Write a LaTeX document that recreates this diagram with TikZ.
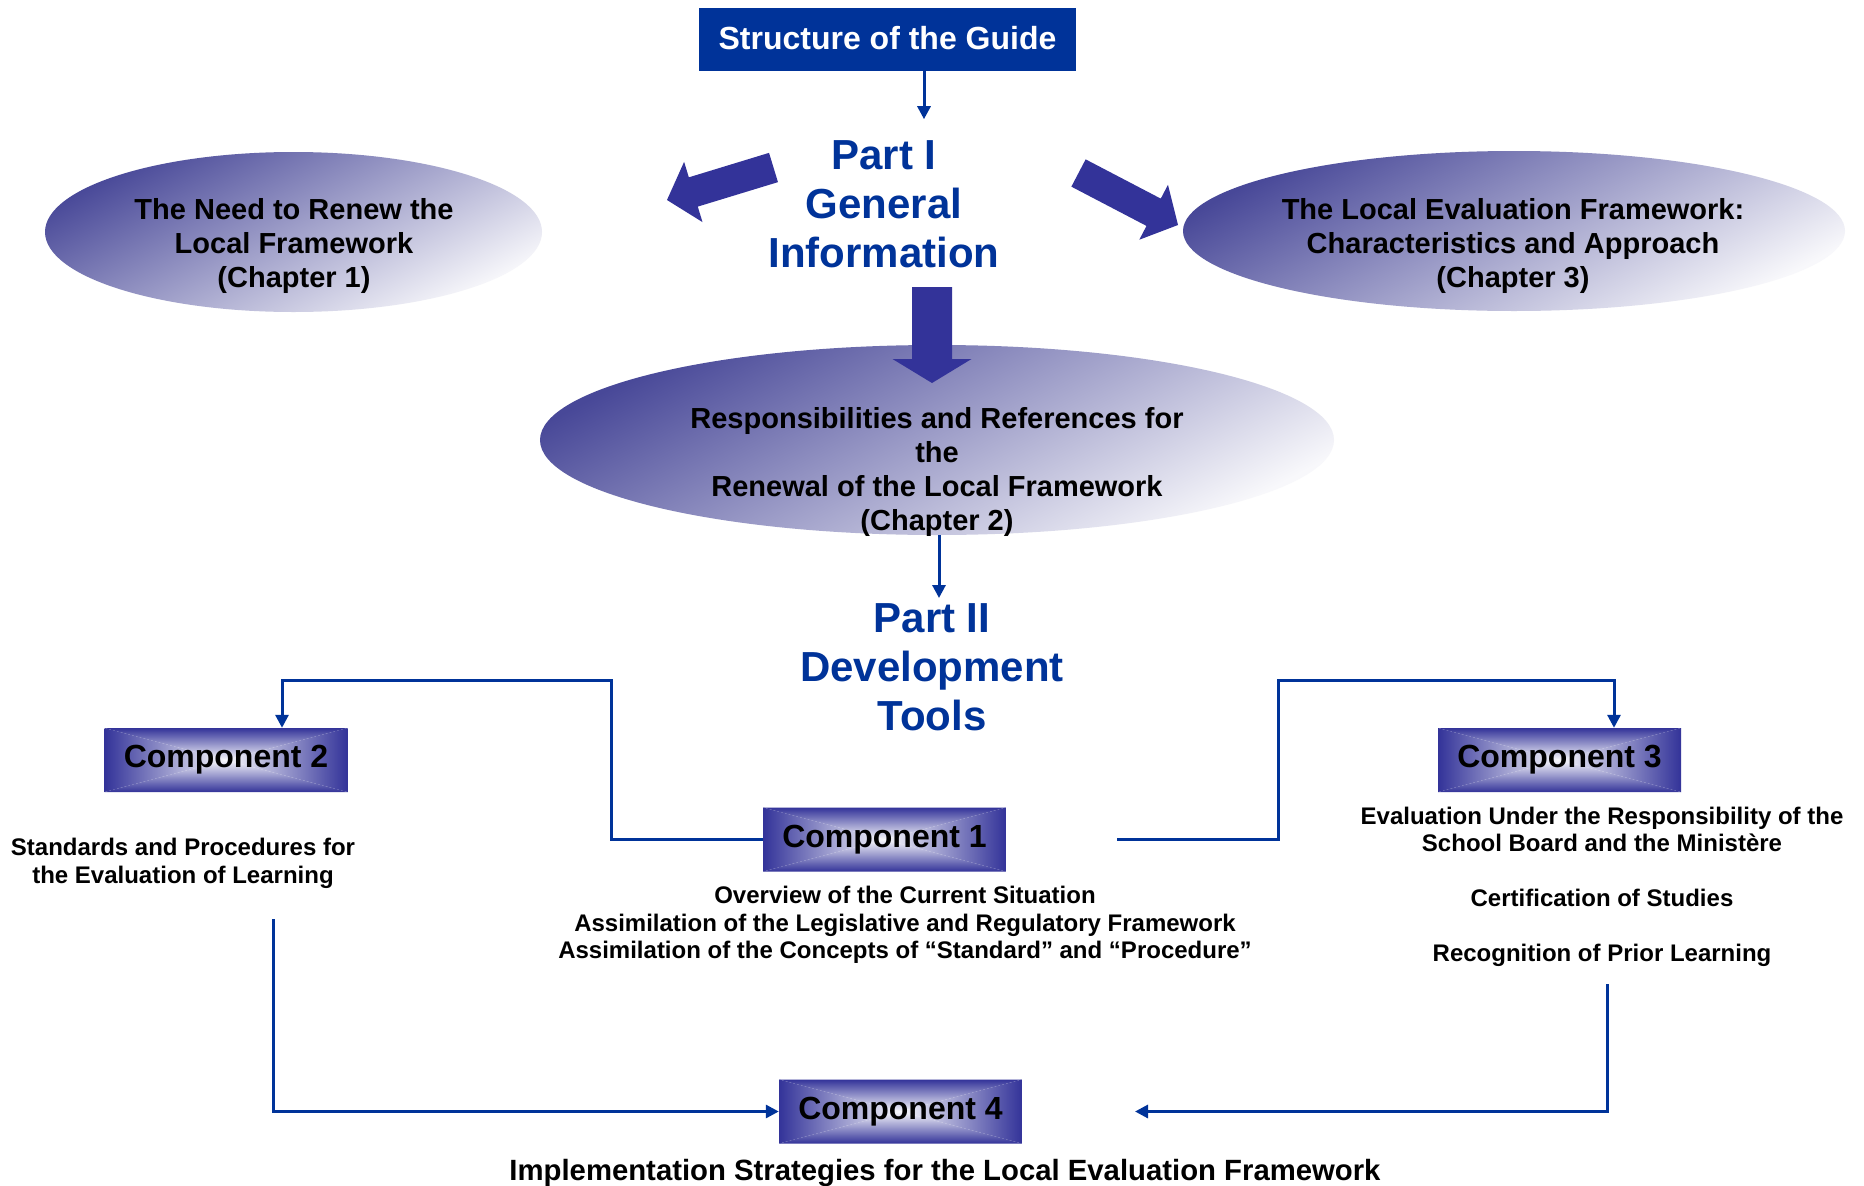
\documentclass[tikz,border=0pt]{standalone}
\usepackage{fontspec}
\setmainfont{Liberation Sans}
\usetikzlibrary{arrows.meta,calc,shapes.geometric}
\definecolor{guideblue}{RGB}{0,51,153}
\definecolor{arrowblue}{RGB}{51,51,153}
\definecolor{elldark}{RGB}{72,72,152}
\definecolor{elllight}{RGB}{248,248,251}
\definecolor{boxlight}{RGB}{248,248,252}
\newcommand\blockarrow[5]{%
  \coordinate (ba-b) at ($(#2)!#5!(#1)$);
  \fill[arrowblue] ($(#1)!#3!90:(#2)$) -- ($(ba-b)!#3!-90:(#1)$) -- ($(ba-b)!#4!-90:(#1)$) -- (#2)
     -- ($(ba-b)!#4!90:(#1)$) -- ($(ba-b)!#3!90:(#1)$) -- ($(#1)!#3!-90:(#2)$) -- cycle;}
\tikzset{
  conn/.style={draw=guideblue, line width=3pt, -{Triangle[length=13pt,width=13pt]}},
  ell/.style={ellipse, draw=none, inner sep=0pt, top color=elldark, bottom color=elllight, shading angle=28},
  elltext/.style={align=center, inner sep=0pt, font=\fontsize{29}{34}\selectfont\bfseries},
  parttext/.style={align=center, inner sep=0pt, text=guideblue, font=\fontsize{42}{49}\selectfont\bfseries},
  subtext/.style={align=center, inner sep=0pt, font=\fontsize{24}{27.5}\selectfont\bfseries},
  compbox/.style={minimum width=243pt, minimum height=64pt, inner sep=0pt,
    font=\fontsize{32}{38}\selectfont\bfseries,
    path picture={
      \coordinate (pNW) at (path picture bounding box.north west);
      \coordinate (pNE) at (path picture bounding box.north east);
      \coordinate (pSW) at (path picture bounding box.south west);
      \coordinate (pSE) at (path picture bounding box.south east);
      \coordinate (pC) at (path picture bounding box.center);
      \shade[top color=arrowblue, bottom color=boxlight] (pNW) -- (pNE) -- (pC) -- cycle;
      \shade[top color=boxlight, bottom color=arrowblue] (pSW) -- (pSE) -- (pC) -- cycle;
      \shade[left color=arrowblue, right color=boxlight] (pNW) -- (pSW) -- (pC) -- cycle;
      \shade[left color=boxlight, right color=arrowblue] (pNE) -- (pSE) -- (pC) -- cycle;
    }},
}
\begin{document}
\begin{tikzpicture}[x=1pt,y=-1pt]
\useasboundingbox (0,0) rectangle (1864,1186);
\fill[white] (0,0) rectangle (1864,1186);

% title
\node[fill=guideblue, text=white, minimum width=377pt, minimum height=63pt, inner sep=0pt,
      font=\fontsize{32}{38}\selectfont\bfseries] (title) at (887.5,39.5) {\raisebox{2.5pt}{Structure of the Guide}};
\node[parttext] (part1) at (884,204) {Part I\\General\\Information};
\draw[conn] ([xshift=36.5pt]title.south) -- ++(0,48);

% ellipses
\node[ell, minimum width=497pt, minimum height=160pt] (ell1) at (293.5,232) {};
\node[ell, minimum width=662pt, minimum height=160pt] (ell3) at (1514,231) {};
\node[ell, minimum width=794pt, minimum height=190pt] (ell2) at (937,440) {};
\node[elltext] (ell1txt) at (294,245.5) {The Need to Renew the\\Local Framework\\(Chapter 1)};
\node[elltext] (ell3txt) at (1513,245.5) {The Local Evaluation Framework:\\Characteristics and Approach\\(Chapter 3)};

% block arrows
\coordinate (la-t) at (773.5,167.5); \coordinate (la-p) at (667,200);
\coordinate (ra-t) at (1078.5,173);  \coordinate (ra-p) at (1178,225);
\coordinate (da-t) at (932,287);     \coordinate (da-p) at (932,383);
\blockarrow{la-t}{la-p}{15.3pt}{31.5pt}{27.5pt}
\blockarrow{ra-t}{ra-p}{15.4pt}{31pt}{27.5pt}
\blockarrow{da-t}{da-p}{20pt}{39.5pt}{24pt}

\node[elltext] (ell2txt) at (937,472) {Responsibilities and References for\\the\\Renewal of the Local Framework\\(Chapter 2)};

% part II
\node[parttext] (part2) at (932,667) {Part II\\Development\\Tools};
\draw[conn] (939,535) coordinate (e2b) -- (939,598);

% components
\node[compbox] (comp2) at (226,760) {Component 2};
\node[compbox] (comp1) at (884.5,839.5) {Component 1};
\node[compbox] (comp3) at (1559.5,760) {Component 3};
\node[compbox] (comp4) at (900.5,1111.5) {Component 4};

\node[subtext] (comp2txt) at (183,863.5) {Standards and Procedures for\\the Evaluation of Learning};
\node[subtext] (comp1txt) at (905,925) {Overview of the Current Situation\\Assimilation of the Legislative and Regulatory Framework\\Assimilation of the Concepts of “Standard” and “Procedure”};
\node[subtext] (comp3txt) at (1602,887) {Evaluation Under the Responsibility of the\\School Board and the Ministère\\[27.5pt]Certification of Studies\\[27.5pt]Recognition of Prior Learning};
\node[inner sep=0pt, font=\fontsize{29.3}{34}\selectfont\bfseries] (comp4txt) at (945,1173) {Implementation Strategies for the Local Evaluation Framework};

% connectors
\draw[conn] (comp1.west) -| (611,680) -| ([xshift=56pt]comp2.north);
\coordinate (c1r) at (1117,839.5);
\draw[conn] (c1r) -| (1278,680) -| ([xshift=54.5pt]comp3.north);
\coordinate (c2b) at (273,919);
\draw[conn] (c2b) |- (comp4.west);
\coordinate (c3b) at (1607,984);
\coordinate (c4r) at (1135,1111.5);
\draw[conn] (c3b) |- (c4r);
\end{tikzpicture}
\end{document}
